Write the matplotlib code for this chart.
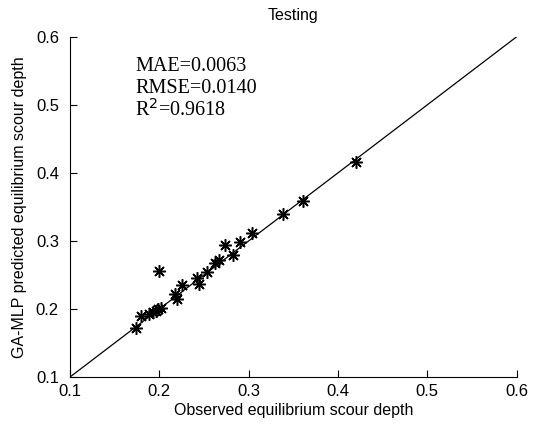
import matplotlib
matplotlib.use("Agg")
import matplotlib.pyplot as plt

# observed vs predicted (testing set)
observed = [0.174, 0.180, 0.193, 0.196, 0.2015, 0.200, 0.218, 0.220, 0.225,
            0.242, 0.244, 0.253, 0.262, 0.267, 0.2736, 0.283, 0.290, 0.304,
            0.338, 0.3606, 0.420, 0.188, 0.198]
predicted = [0.172, 0.190, 0.195, 0.197, 0.201, 0.256, 0.222, 0.214, 0.235,
             0.245, 0.237, 0.255, 0.267, 0.272, 0.294, 0.279, 0.299, 0.311,
             0.340, 0.359, 0.4166, 0.192, 0.200]
ideal = [0.1, 0.6]
ticks = [0.1, 0.2, 0.3, 0.4, 0.5, 0.6]
stats = ["MAE=0.0063", "RMSE=0.0140", "R$^2$=0.9618"]

plt.rcParams['font.family'] = ['Liberation Sans', 'DejaVu Sans']

fig = plt.figure(figsize=(5.36, 4.33), dpi=100)
ax = fig.add_axes([0.1306, 0.1293, 0.8334, 0.7859])

ax.plot(ideal, ideal, color='black', lw=0.9)
ax.plot(observed, predicted, linestyle='none', marker=(8, 2, 0),
        markersize=9, markeredgewidth=1.1, color='black')

ax.set_xlim(0.1, 0.6)
ax.set_ylim(0.1, 0.6)
ax.set_xticks(ticks)
ax.set_yticks(ticks)
ax.tick_params(direction='in', length=5, width=0.8, labelsize=12)
ax.tick_params(axis='x', pad=5)
ax.tick_params(axis='y', pad=8)
ax.spines['top'].set_visible(False)
ax.spines['right'].set_visible(False)

ax.set_title("Testing", fontsize=11.5, pad=12)
ax.set_xlabel("Observed equilibrium scour depth", fontsize=11.5, labelpad=3)
ax.set_ylabel("GA-MLP predicted equilibrium scour depth", fontsize=11.5, labelpad=6)

for i, s in enumerate(stats):
    ax.text(0.173, 0.556 - i * 0.032, s, fontsize=14.5, family='Liberation Serif',
            va='center', ha='left')

fig.savefig("out.png", dpi=100)
